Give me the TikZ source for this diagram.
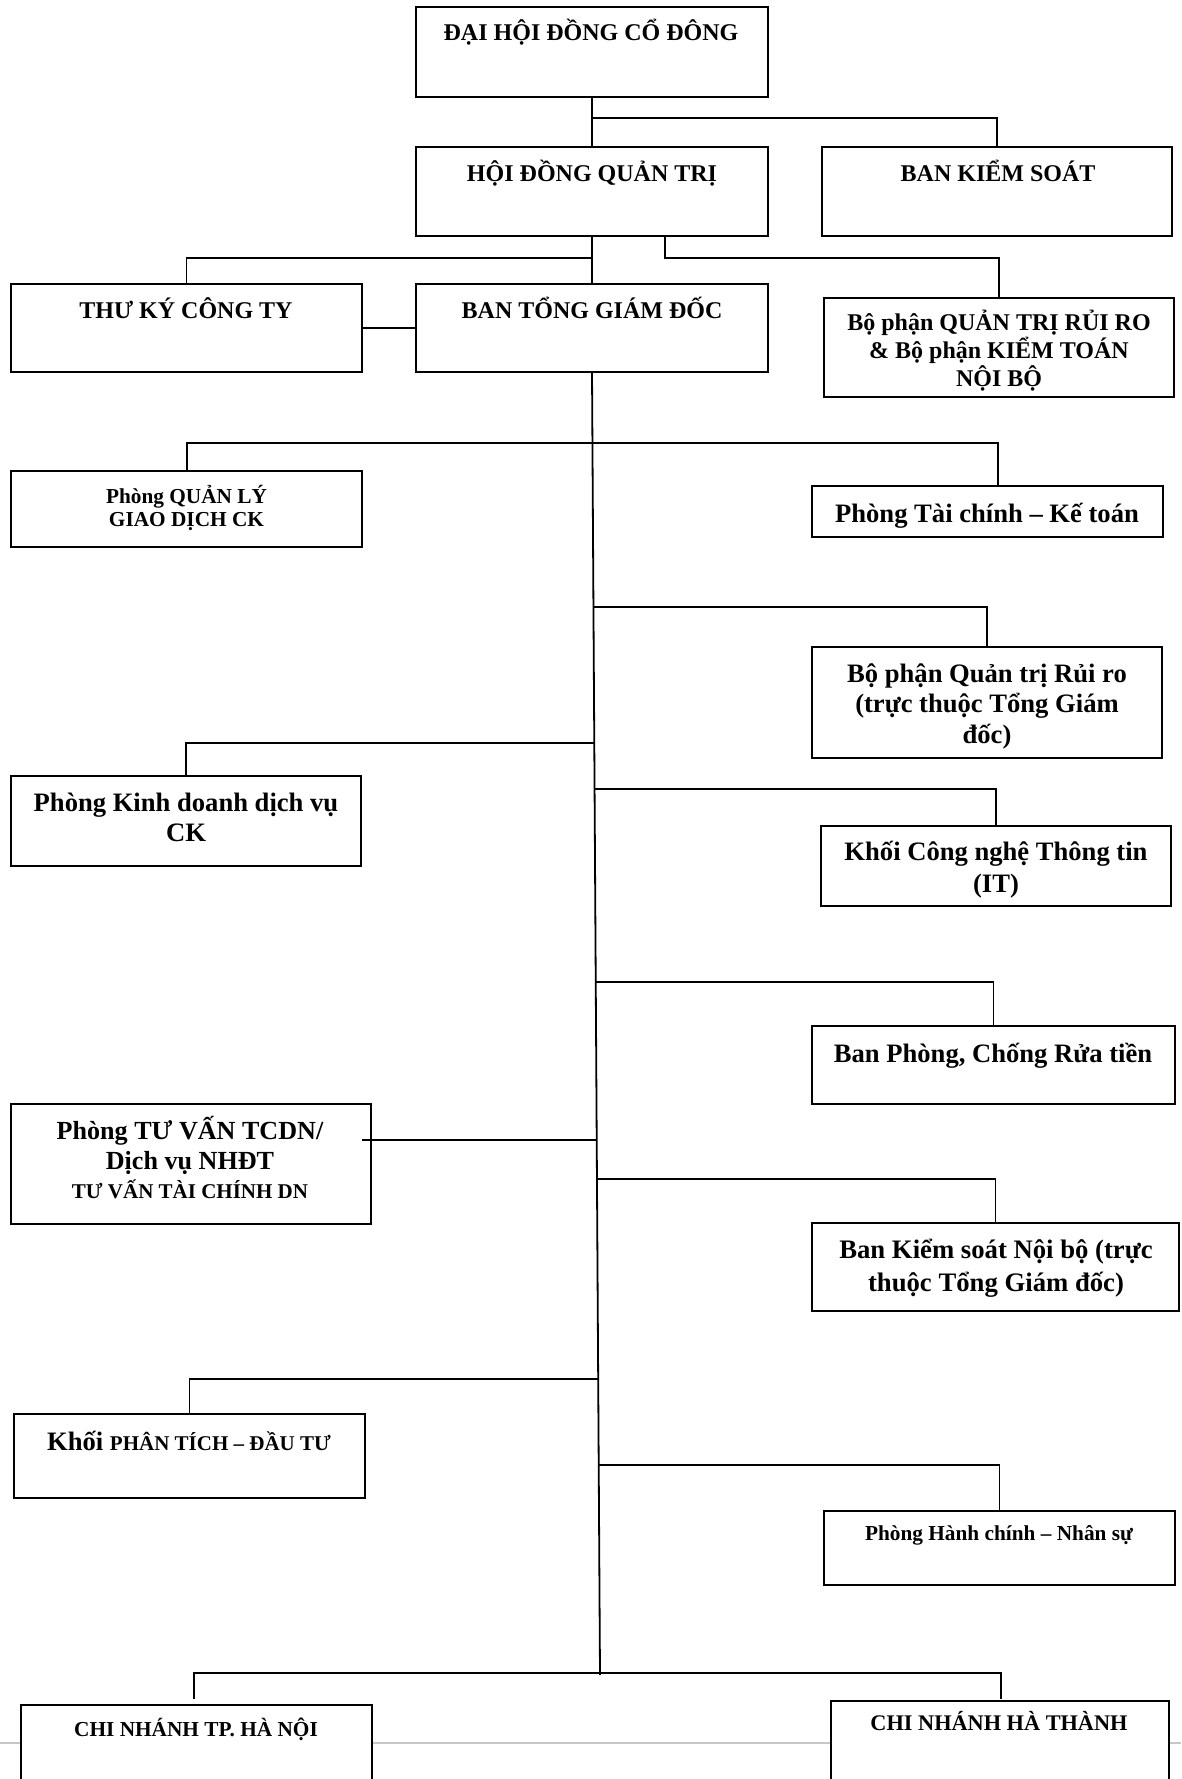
\documentclass[tikz,border=0pt]{standalone}
\usepackage{fontspec}
\setmainfont{Liberation Serif}
\usetikzlibrary{calc}
\newcommand\obox[5]{\node[orgbox, minimum width={(#4)-(#2)}, minimum height={(#5)-(#3)}] (#1) at ({((#2)+(#4))/2},{((#3)+(#5))/2}) {};}
\begin{document}
\begin{tikzpicture}[x=1pt,y=-1pt,
  orgbox/.style={draw=black, fill=white, line width=2.2pt, inner sep=0pt, outer sep=0pt, rectangle},
  lbl/.style={inner sep=0pt, align=center, text=black},
  link/.style={draw=black, line width=1.8pt},
  pageline/.style={draw=black!22, line width=2pt},
  fA/.style={font=\bfseries\fontsize{24}{26}\selectfont},
  fB/.style={font=\bfseries\fontsize{26.6}{30}\selectfont},
  fC/.style={font=\bfseries\fontsize{21.3}{23}\selectfont},
]
\useasboundingbox (0,0) rectangle (1181,1779);
\clip (0,0) rectangle (1181,1779);
\fill[white] (0,0) rectangle (1181,1779);
% page break line
\coordinate (pgL) at (0,1743);
\coordinate (pgR) at (1181,1743);
\draw[pageline] (pgL) -- (pgR);

% boxes
\obox{dh}{416}{7}{768}{97}
\obox{hd}{416}{147}{768}{236}
\obox{bks}{822}{147}{1172}{236}
\obox{tk}{11}{284}{362}{372}
\obox{bt}{416}{284}{768}{372}
\obox{bpk}{824}{298}{1174}{397}
\obox{ql}{11}{471}{362}{547}
\obox{tc}{812}{486}{1163}{537}
\obox{rr}{812}{647}{1162}{758}
\obox{kd}{11}{776}{361}{866}
\obox{it}{821}{826}{1171}{906}
\obox{pc}{812}{1026}{1175}{1104}
\obox{tv}{11}{1104}{371}{1224}
\obox{ks}{812}{1223}{1179}{1311}
\obox{pt}{14}{1414}{365}{1498}
\obox{hc}{824}{1511}{1175}{1585}
\obox{hn}{21}{1705}{372}{1800}
\node[orgbox, line width=2.6pt, minimum width=338, minimum height=99] (ht) at (1000,1750.5) {};

% texts
\node[lbl, fA, anchor=base] (tdh) at (591,41) {ĐẠI HỘI ĐỒNG CỔ ĐÔNG};
\node[lbl, fA, anchor=base] (thd) at (592,182) {HỘI ĐỒNG QUẢN TRỊ};
\node[lbl, fA, anchor=base] (tbks) at (998,182) {BAN KIỂM SOÁT};
\node[lbl, fA, anchor=base] (ttk) at (186,318) {THƯ KÝ CÔNG TY};
\node[lbl, fA, anchor=base] (tbt) at (592,318) {BAN TỔNG GIÁM ĐỐC};
\node[lbl, font=\bfseries\fontsize{24}{28}\selectfont] (tbpk) at (999,351) {Bộ phận QUẢN TRỊ RỦI RO\\\& Bộ phận KIỂM TOÁN\\NỘI BỘ};
\node[lbl, fC] (tql) at (186.5,508) {Phòng QUẢN LÝ\\GIAO DỊCH CK};
\node[lbl, fB, anchor=base] (ttc) at (987,522) {Phòng Tài chính – Kế toán};
\node[lbl, font=\bfseries\fontsize{26.6}{30.5}\selectfont] (trr) at (987,706) {Bộ phận Quản trị Rủi ro\\(trực thuộc Tổng Giám\\đốc)};
\node[lbl, fB] (tkd) at (186,817) {Phòng Kinh doanh dịch vụ\\CK};
\node[lbl, font=\bfseries\fontsize{26.6}{32}\selectfont] (tit) at (996,870) {Khối Công nghệ Thông tin\\(IT)};
\node[lbl, fB, anchor=base] (tpc) at (993,1062) {Ban Phòng, Chống Rửa tiền};
\node[lbl, font=\bfseries\fontsize{26.1}{29.5}\selectfont] (ttv) at (190,1158) {Phòng TƯ VẤN TCDN/\\Dịch vụ NHĐT\\{\fontsize{21}{24}\selectfont TƯ VẤN TÀI CHÍNH DN}};
\node[lbl, font=\bfseries\fontsize{26.7}{33}\selectfont] (tks) at (996,1268) {Ban Kiểm soát Nội bộ (trực\\thuộc Tổng Giám đốc)};
\node[lbl, fB, anchor=base] (tpt) at (189,1450) {Khối {\fontsize{21}{24}\selectfont PHÂN TÍCH – ĐẦU TƯ}};
\node[lbl, fC, anchor=base] (thc) at (999,1540) {Phòng Hành chính – Nhân sự};
\node[lbl, fC, anchor=base] (thn) at (196,1736) {CHI NHÁNH TP. HÀ NỘI};
\node[lbl, font=\bfseries\fontsize{22.3}{24}\selectfont, anchor=base] (tht) at (999,1730) {CHI NHÁNH HÀ THÀNH};

% connectors (top)
\coordinate (j1) at (592,118);
\coordinate (j2) at (592,258);
\coordinate (j3) at (665,258);
\draw[link] (dh.south) -- (hd.north);
\draw[link] (j1) -| (bks.north);
\draw[link] (hd.south) -- (bt.north);
\draw[link] (j2) -| (tk.north);
\draw[link] ([xshift=73pt]hd.south) -- (j3) -| (bpk.north);
\draw[link] (tk.east) -- (bt.west);

% trunk
\coordinate (tend) at (600,1675);
\draw[link] (bt.south) -- (tend);

% branches
\coordinate (k1l) at (187,443);
\coordinate (k1r) at (998,443);
\draw[link] (k1l |- ql.north) -- (k1l) -- (k1r) -- (k1r |- tc.north);
\coordinate (k2) at (593.4,607);
\draw[link] (k2) -| (rr.north);
\coordinate (k3) at (594.3,743);
\draw[link] (k3) -| (kd.north);
\coordinate (k4) at (594.6,789);
\draw[link] (k4) -| (it.north);
\coordinate (k5) at (595.8,982);
\draw[link] (k5) -| (pc.north);
\coordinate (k6) at (596.7,1140);
\coordinate (tvj) at (362,1140);
\draw[link] (tvj) -- (k6);
\coordinate (k7) at (597,1179);
\draw[link] (k7) -| (ks.north);
\coordinate (k8) at (598.2,1379);
\draw[link] (k8) -| (pt.north);
\coordinate (k9) at (598.7,1465);
\draw[link] (k9) -| (hc.north);
\coordinate (k10l) at (194,1673);
\coordinate (k10r) at (1001,1673);
\coordinate (e10l) at (194,1699);
\coordinate (e10r) at (1001,1699);
\draw[link] (e10l) -- (k10l) -- (k10r) -- (e10r);
\end{tikzpicture}
\end{document}
